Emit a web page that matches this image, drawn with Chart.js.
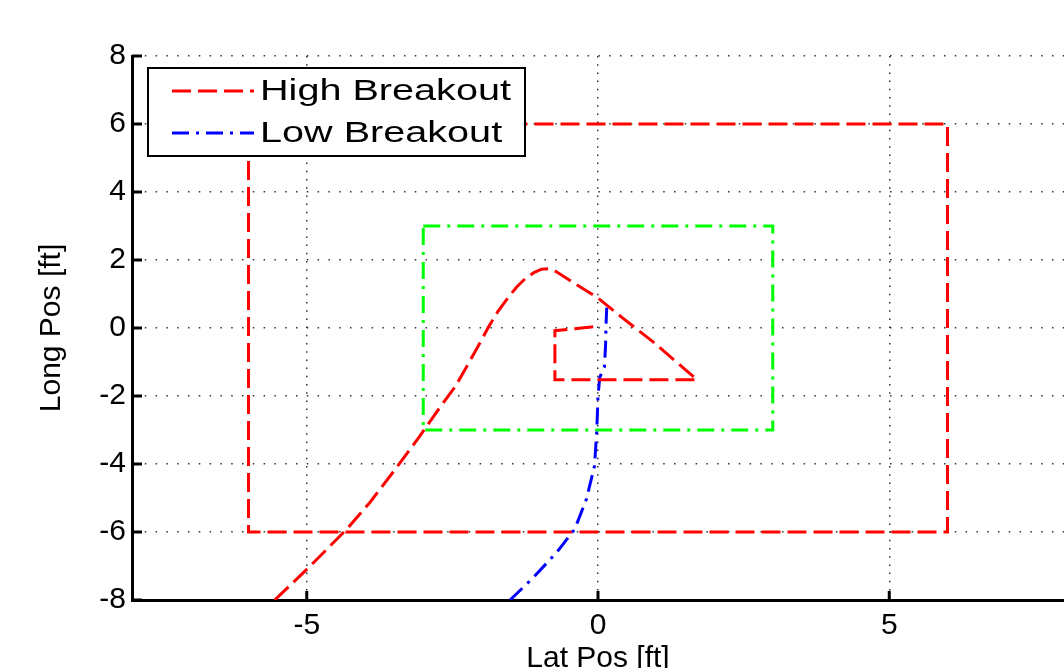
<!DOCTYPE html>
<html>
<head>
<meta charset="utf-8">
<script src="https://cdn.jsdelivr.net/npm/chart.js@4.4.1/dist/chart.umd.min.js"></script>
<style>
  html, body { margin: 0; padding: 0; background: #fff; }
  #wrap { width: 1064px; height: 668px; position: relative; }
</style>
</head>
<body>
<div id="wrap"><canvas id="breakoutChart"></canvas></div>
<script>
// trajectories (ft)
const highLatPos  = [-5.55, -5.0, -4.32, -3.92, -3.46, -3.06, -2.72, -2.45, -2.2, -2.03, -1.88, -1.72, -1.55, -1.4, -1.25, -1.1, -0.97, -0.85, -0.72, -0.54, 0, 0.42, 0.94, 1.4, 1.7, -0.74, -0.74, -0.4, 0];
const highLongPos = [-8, -7.1, -5.93, -5.14, -4.11, -3.18, -2.35, -1.72, -0.97, -0.45, 0.03, 0.48, 0.88, 1.2, 1.45, 1.63, 1.73, 1.74, 1.66, 1.46, 0.88, 0.3, -0.4, -1.08, -1.52, -1.52, -0.08, -0.02, 0.05];

const lowLatPos  = [-1.51, -1.11, -0.71, -0.4, -0.2, -0.06, -0.02, 0, 0.03, 0.11, 0.13, 0.14, 0.15];
const lowLongPos = [-8, -7.34, -6.6, -5.92, -5.04, -4.06, -3, -2, -1.45, -1.15, -0.5, 0.2, 0.6];

// breakout zones
const outerZoneLat  = [-6, 6, 6, -6, -6];
const outerZoneLong = [6, 6, -6, -6, 6];
const innerZoneLat  = [-3, 3, 3, -3, -3];
const innerZoneLong = [3, 3, -3, -3, 3];

const seriesLabels = ['High Breakout', 'Low Breakout'];

const FONT = '"Liberation Sans", Arial, Helvetica, sans-serif';
const STRETCH = 1.32; // text in the source figure is drawn wide

function toPoints(xs, ys) {
  return xs.map((x, i) => ({ x: x, y: ys[i] }));
}

// matlab style tick marks, pointing into the plot
const innerTicks = {
  id: 'innerTicks',
  afterDatasetsDraw(chart) {
    const { ctx, chartArea, scales } = chart;
    ctx.save();
    ctx.strokeStyle = '#000';
    ctx.lineWidth = 3;
    ctx.beginPath();
    scales.x.ticks.forEach(t => {
      const px = scales.x.getPixelForValue(t.value);
      ctx.moveTo(px, chartArea.bottom);
      ctx.lineTo(px, chartArea.bottom - 9);
    });
    scales.y.ticks.forEach(t => {
      const py = scales.y.getPixelForValue(t.value);
      ctx.moveTo(chartArea.left, py);
      ctx.lineTo(chartArea.left + 10, py);
    });
    ctx.stroke();
    ctx.restore();
  }
};

// boxed legend sitting inside the axes
const boxLegend = {
  id: 'boxLegend',
  afterDraw(chart) {
    const { ctx, chartArea } = chart;
    const left = chartArea.left + 16;
    const top = chartArea.top + 12;
    ctx.save();
    ctx.fillStyle = '#fff';
    ctx.fillRect(left, top, 377, 88);
    ctx.strokeStyle = '#000';
    ctx.lineWidth = 2;
    ctx.strokeRect(left, top, 377, 88);
    chart.data.datasets.slice(0, 2).forEach((ds, i) => {
      const y = top + 23 + i * 42;
      ctx.strokeStyle = ds.borderColor;
      ctx.lineWidth = ds.borderWidth;
      ctx.setLineDash(ds.borderDash);
      ctx.beginPath();
      ctx.moveTo(left + 24, y);
      ctx.lineTo(left + 106, y);
      ctx.stroke();
      ctx.setLineDash([]);
      ctx.save();
      ctx.translate(left + 112, y + 1);
      ctx.scale(STRETCH, 1);
      ctx.fillStyle = '#000';
      ctx.font = '30px ' + FONT;
      ctx.textBaseline = 'middle';
      ctx.fillText(ds.label, 0, 0);
      ctx.restore();
    });
    ctx.restore();
  }
};

const redDash = [19, 7];
const dashDot = [17, 7, 3, 7];

new Chart(document.getElementById('breakoutChart'), {
  type: 'scatter',
  data: {
    datasets: [{
        label: seriesLabels[0],
        data: toPoints(highLatPos, highLongPos),
        borderColor: '#ff0000',
        borderWidth: 3,
        borderDash: redDash,
      },
      {
        label: seriesLabels[1],
        data: toPoints(lowLatPos, lowLongPos),
        borderColor: '#0000ff',
        borderWidth: 3,
        borderDash: dashDot,
      },
      {
        label: 'High Breakout Zone',
        data: toPoints(outerZoneLat, outerZoneLong),
        borderColor: '#ff0000',
        borderWidth: 3,
        borderDash: redDash,
      },
      {
        label: 'Low Breakout Zone',
        data: toPoints(innerZoneLat, innerZoneLong),
        borderColor: '#00ff00',
        borderWidth: 3,
        borderDash: dashDot,
      }
    ]
  },
  options: {
    responsive: true,
    maintainAspectRatio: false,
    animation: false,
    showLine: true,
    elements: {
      point: { radius: 0, hoverRadius: 0 },
      line: { fill: false, tension: 0 }
    },
    layout: {
      padding: { top: 56, left: 0, right: 0, bottom: 0 }
    },
    scales: {
      x: {
        type: 'linear',
        min: -8,
        max: 8,
        afterFit: s => { s.height = 68; },
        grid: { color: '#333', lineWidth: 1.5, drawTicks: false },
        border: { color: '#000', width: 3, dash: [1.5, 6.7] },
        ticks: {
          stepSize: 5,
          includeBounds: false,
          color: '#000',
          padding: 8,
          font: { family: FONT, size: 30 }
        },
        title: {
          display: true,
          text: 'Lat Pos [ft]',
          color: '#000',
          font: { family: FONT, size: 30, lineHeight: 1 },
          padding: { top: 0, bottom: -6 }
        }
      },
      y: {
        type: 'linear',
        min: -8,
        max: 8,
        afterFit: s => { s.width = 132; },
        grid: { color: '#333', lineWidth: 1.5, drawTicks: false },
        border: { color: '#000', width: 3, dash: [1.5, 9.3] },
        ticks: {
          stepSize: 2,
          color: '#000',
          padding: 6,
          font: { family: FONT, size: 30 }
        },
        title: {
          display: true,
          text: 'Long Pos [ft]',
          color: '#000',
          font: { family: FONT, size: 30, lineHeight: 1 },
          padding: { top: 37, bottom: 0 }
        }
      }
    },
    plugins: {
      legend: { display: false },
      tooltip: { enabled: false }
    }
  },
  plugins: [innerTicks, boxLegend]
});
</script>
</body>
</html>
